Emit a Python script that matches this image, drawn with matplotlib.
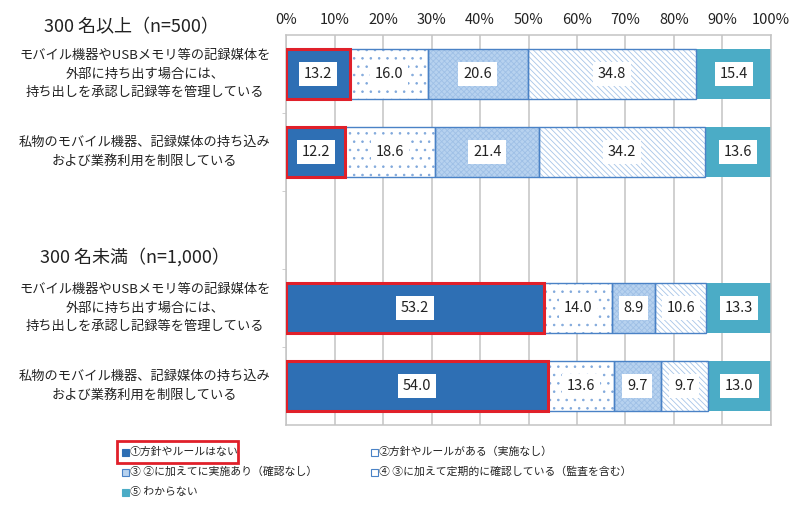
import matplotlib
matplotlib.use("Agg")
import matplotlib.pyplot as plt
from matplotlib.patches import Rectangle
from matplotlib.transforms import blended_transform_factory
import numpy as np

plt.rcParams['font.family'] = ['Noto Sans CJK JP', 'DejaVu Sans']
plt.rcParams['hatch.linewidth'] = 0.6

# ---- data ----
row_labels = [
    "モバイル機器やUSBメモリ等の記録媒体を\n外部に持ち出す場合には、\n持ち出しを承認し記録等を管理している",
    "私物のモバイル機器、記録媒体の持ち込み\nおよび業務利用を制限している",
    "",
    "モバイル機器やUSBメモリ等の記録媒体を\n外部に持ち出す場合には、\n持ち出しを承認し記録等を管理している",
    "私物のモバイル機器、記録媒体の持ち込み\nおよび業務利用を制限している",
]
group_titles = ["300 名以上（n=500）", "300 名未満（n=1,000）"]
series_names = [
    "①方針やルールはない",
    "②方針やルールがある（実施なし）",
    "③ ②に加えてに実施あり（確認なし）",
    "④ ③に加えて定期的に確認している（監査を含む）",
    "⑤ わからない",
]
s1 = [13.2, 12.2, np.nan, 53.2, 54.0]
s2 = [16.0, 18.6, np.nan, 14.0, 13.6]
s3 = [20.6, 21.4, np.nan, 8.9, 9.7]
s4 = [34.8, 34.2, np.nan, 10.6, 9.7]
s5 = [15.4, 13.6, np.nan, 13.3, 13.0]
series = [s1, s2, s3, s4, s5]
xticks = [0, 10, 20, 30, 40, 50, 60, 70, 80, 90, 100]
xticklabels = [f"{t}%" for t in xticks]

# ---- styles ----
face = ['#2e6fb4', 'white', '#b7d2ef', 'white', '#4bacc6']
hatch = [None, '..', 'xxxxxx', '\\\\\\\\\\\\', None]
hatchcol = [None, '#80a8db', '#9fc0e6', '#a7c5e8', None]
border = [None, '#4a82c6', '#4a82c6', '#4a82c6', None]

fig = plt.figure(figsize=(8, 5.19), dpi=100)
ax = fig.add_axes([286/800, 1-425/519, 485/800, 390/519])

y = np.arange(len(row_labels))
h = 0.64
left = np.zeros(len(y))
valid = ~np.isnan(np.array(s1, dtype=float))
for i, s in enumerate(series):
    v = np.array(s, dtype=float)
    vv = np.nan_to_num(v)
    yy, ww, ll = y[valid], vv[valid], left[valid]
    if hatch[i] is None:
        ax.barh(yy, ww, left=ll, height=h, color=face[i], linewidth=0, zorder=2)
    else:
        ax.barh(yy, ww, left=ll, height=h, color=face[i], edgecolor=hatchcol[i],
                hatch=hatch[i], linewidth=0, zorder=2)
        ax.barh(yy, ww, left=ll, height=h, facecolor='none', edgecolor=border[i],
                linewidth=1.0, zorder=3)
    for yi, val, l in zip(yy, ww, ll):
        ax.text(l + val/2, yi, f"{val:.1f}", ha='center', va='center', fontsize=10.5,
                color='#222222', zorder=6,
                bbox=dict(boxstyle='square,pad=0.33', facecolor='white', edgecolor='none'))
    if i == 0:
        ax.barh(yy, ww, left=ll, height=h, facecolor='none', edgecolor='#e0202a',
                linewidth=2.2, zorder=5)
    left = left + vv

ax.set_xlim(0, 100)
ax.set_ylim(len(y) - 0.5, -0.5)
ax.xaxis.tick_top()
ax.set_xticks(xticks)
ax.set_xticklabels(xticklabels, fontsize=10.5, color='#222222')
ax.tick_params(axis='x', length=0, pad=6)
ax.set_yticks([])
ax.set_yticks(np.arange(len(y) - 1) + 0.5, minor=True)
ax.tick_params(axis='y', which='minor', length=3, color='#c8c8c8', labelleft=False)
ax.grid(axis='x', color='#c4c4c4', linewidth=1.1, zorder=0)
ax.set_axisbelow(True)
for sp in ax.spines.values():
    sp.set_color('#c4c4c4')
    sp.set_linewidth(1.1)

tr = blended_transform_factory(ax.transAxes, ax.transData)
for yi, lab in zip(y, row_labels):
    if lab:
        ax.text(-0.291, yi, lab, transform=tr, ha='center', va='center', fontsize=9.5,
                color='#222222', linespacing=1.55)

fig.text(131/800, 1-27/519, group_titles[0], ha='center', va='center', fontsize=13, color='#222222')
fig.text(135/800, 1-257/519, group_titles[1], ha='center', va='center', fontsize=13, color='#222222')

# ---- legend ----
leg_pos = [(125, 452), (374, 452), (125, 472), (374, 472), (125, 492)]
mk = 7
for i, (px, py) in enumerate(leg_pos):
    ec = border[i] if border[i] else face[i]
    fig.patches.append(Rectangle(((px - mk/2)/800, 1-(py + mk/2)/519), mk/800, mk/519,
                                 transform=fig.transFigure, facecolor=face[i],
                                 edgecolor=ec, linewidth=0.8))
    fig.text((px + 5)/800, 1-py/519, series_names[i], ha='left', va='center',
             fontsize=7.8, color='#222222')
fig.patches.append(Rectangle((117/800, 1-463/519), 121/800, 22/519, transform=fig.transFigure,
                             facecolor='none', edgecolor='#e0202a', linewidth=2))

fig.savefig('out.png', dpi=100)
